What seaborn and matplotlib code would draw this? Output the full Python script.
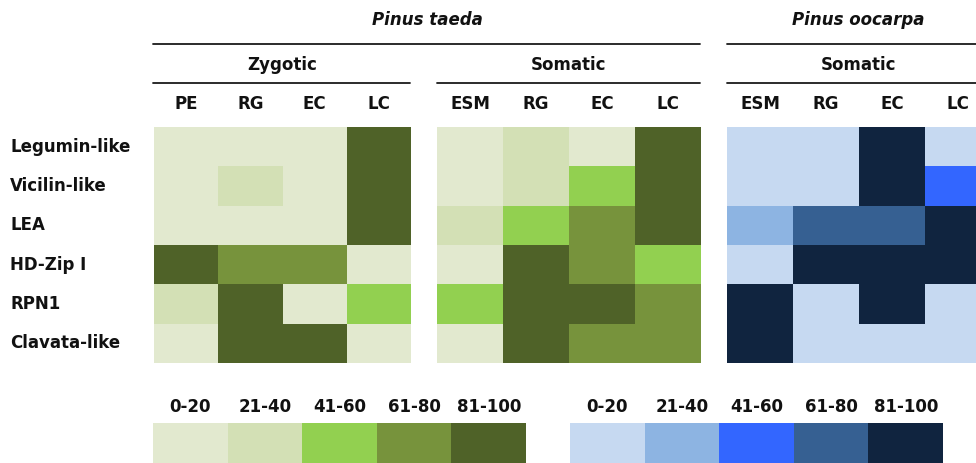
import numpy as np
import pandas as pd
import matplotlib
matplotlib.use("Agg")
import matplotlib.pyplot as plt
from matplotlib.colors import ListedColormap
from matplotlib.lines import Line2D
import seaborn as sns

# ---- data ----
genes = ['Legumin-like', 'Vicilin-like', 'LEA', 'HD-Zip I', 'RPN1', 'Clavata-like']
zygotic_stages = ['PE', 'RG', 'EC', 'LC']
somatic_stages = ['ESM', 'RG', 'EC', 'LC']
# expression class: 1=0-20, 2=21-40, 3=41-60, 4=61-80, 5=81-100
taeda_zygotic = [[1, 1, 1, 5],
                 [1, 2, 1, 5],
                 [1, 1, 1, 5],
                 [5, 4, 4, 1],
                 [2, 5, 1, 3],
                 [1, 5, 5, 1]]
taeda_somatic = [[1, 2, 1, 5],
                 [1, 2, 3, 5],
                 [2, 3, 4, 5],
                 [1, 5, 4, 3],
                 [3, 5, 5, 4],
                 [1, 5, 4, 4]]
oocarpa_somatic = [[1, 1, 5, 1],
                   [1, 1, 5, 3],
                   [2, 4, 4, 5],
                   [1, 5, 5, 5],
                   [5, 1, 5, 1],
                   [5, 1, 1, 1]]
classes = ['0-20', '21-40', '41-60', '61-80', '81-100']
class_values = [1, 2, 3, 4, 5]

greens = ['#E2E9CF', '#D3E0B5', '#92D050', '#77933C', '#4F6228']
blues = ['#C6D9F1', '#8DB4E2', '#3366FF', '#366092', '#10243F']

sns.set_theme(style="white")
plt.rcParams['font.family'] = ['DejaVu Sans']
plt.rcParams['font.weight'] = 'bold'

W, H = 976, 463
fig = plt.figure(figsize=(W / 100, H / 100), dpi=100)
FS = 12


def px_axes(x0, y0, x1, y1):
    return fig.add_axes([x0 / W, 1 - y1 / H, (x1 - x0) / W, (y1 - y0) / H])


def hline(x0, x1, y):
    fig.add_artist(Line2D([x0 / W, x1 / W], [1 - y / H, 1 - y / H],
                          transform=fig.transFigure, color='#1a1a1a', lw=1.3))


def ftext(x, y, s, **kw):
    fig.text(x / W, 1 - y / H, s, ha='center', va='center', fontsize=FS,
             fontweight='bold', color='#111111', **kw)


panels = [
    (taeda_zygotic, zygotic_stages, greens, (154, 127, 411, 363)),
    (taeda_somatic, somatic_stages, greens, (437, 127, 701, 363)),
    (oocarpa_somatic, somatic_stages, blues, (727, 127, 991, 363)),
]
for i, (vals, stages, cols, box) in enumerate(panels):
    ax = px_axes(*box)
    df = pd.DataFrame(vals, index=genes, columns=stages)
    sns.heatmap(df, ax=ax, cmap=ListedColormap(cols), vmin=0.5, vmax=5.5,
                cbar=False, linewidths=0, square=False)
    ax.xaxis.tick_top()
    ax.set_xticklabels(stages, fontsize=FS, fontweight='bold', color='#111111')
    ax.tick_params(axis='x', length=0, pad=10)
    if i == 0:
        ax.set_yticklabels(genes, rotation=0, fontsize=FS, fontweight='bold',
                           color='#111111', ha='left')
        ax.tick_params(axis='y', length=0, pad=(154 - 10) * 0.72)
    else:
        ax.set_yticks([])
    ax.set_xlabel('')
    ax.set_ylabel('')
    for s in ax.spines.values():
        s.set_visible(False)

# headers
ftext(427, 20, 'Pinus taeda', style='italic')
ftext(858, 20, 'Pinus oocarpa', style='italic')
hline(153, 700, 44)
hline(727, 976, 44)
ftext(282, 65, 'Zygotic')
ftext(568, 65, 'Somatic')
ftext(858, 65, 'Somatic')
hline(153, 410, 83)
hline(437, 700, 83)
hline(727, 976, 83)

# legend bars
for cols, (x0, x1) in [(greens, (153, 526)), (blues, (570, 943))]:
    ax = px_axes(x0, 423, x1, 475)
    df = pd.DataFrame([class_values], columns=classes)
    sns.heatmap(df, ax=ax, cmap=ListedColormap(cols), vmin=0.5, vmax=5.5,
                cbar=False, linewidths=0, yticklabels=False)
    ax.xaxis.tick_top()
    ax.set_xticklabels(classes, fontsize=FS, fontweight='bold', color='#111111')
    ax.tick_params(axis='x', length=0, pad=5)
    ax.set_xlabel('')
    for s in ax.spines.values():
        s.set_visible(False)

fig.savefig('out.png', dpi=100)
